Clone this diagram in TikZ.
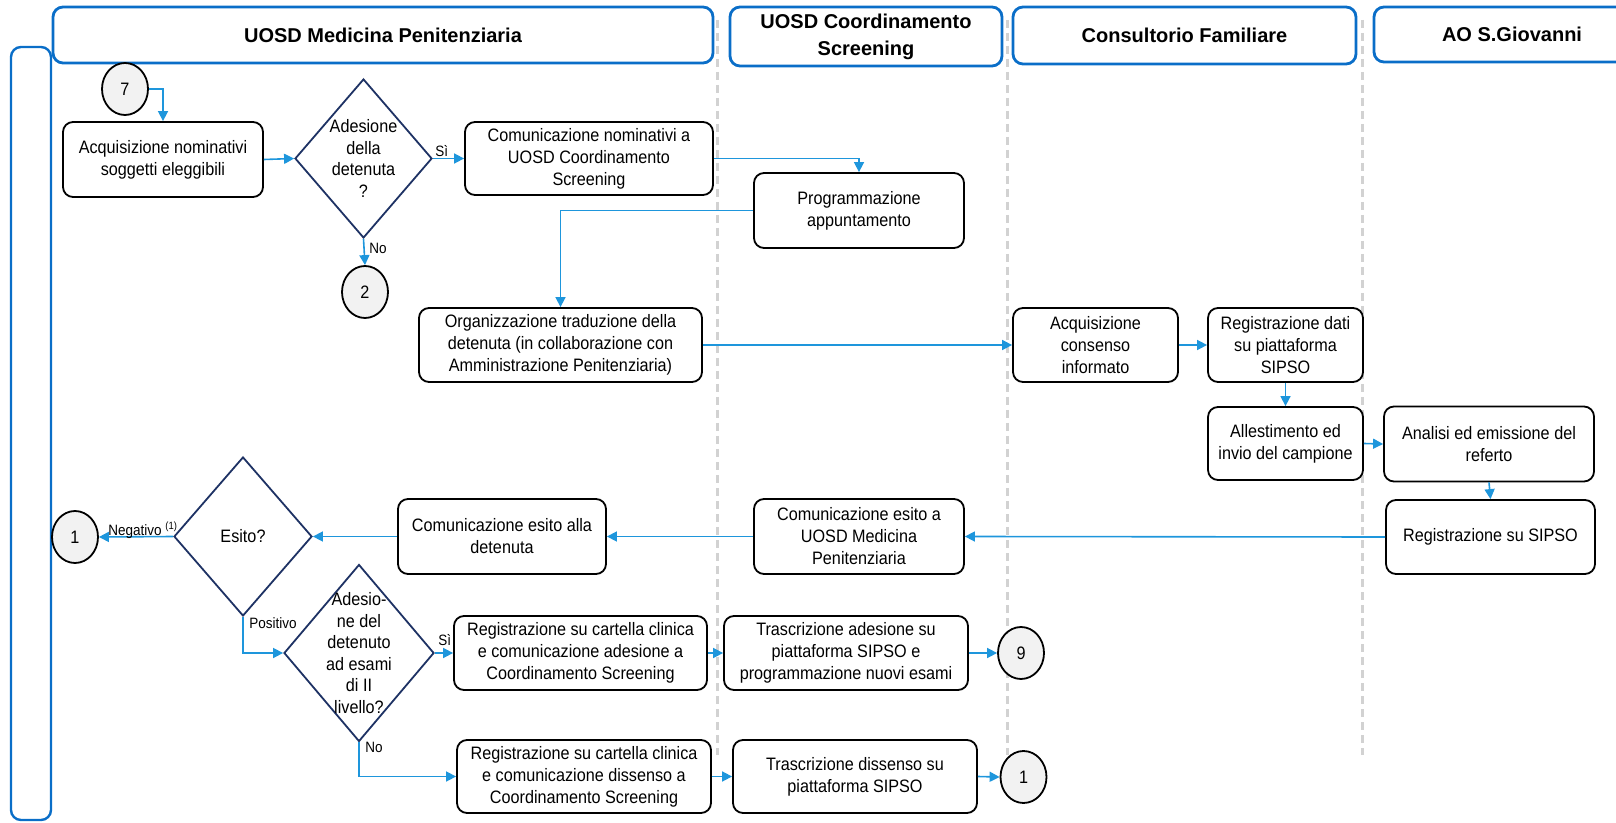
\documentclass[tikz,border=0pt]{standalone}
\usepackage{fontspec}
\setmainfont{Liberation Sans}
\newfontfamily\bodyfont{Liberation Sans}[FakeStretch=0.9]
\usetikzlibrary{shapes.geometric,arrows.meta}

\definecolor{laneblue}{RGB}{10,110,200}
\definecolor{flowblue}{RGB}{30,150,220}
\definecolor{decnavy}{RGB}{30,50,100}
\definecolor{sepgray}{RGB}{210,210,210}
\definecolor{connfill}{RGB}{242,242,242}

\tikzset{
  lanehead/.style={draw=laneblue, line width=1.4pt, rounded corners=5pt, fill=white,
    align=center, inner sep=0pt, font=\bfseries\fontsize{10}{13.5}\selectfont},
  proc/.style={draw=black, line width=0.9pt, rounded corners=5pt, fill=white,
    align=center, inner sep=1pt, font=\bodyfont\fontsize{9}{11}\selectfont},
  decision/.style={diamond, draw=decnavy, line width=0.9pt, inner sep=0pt, aspect=1},
  dectext/.style={align=center, inner sep=0pt, font=\bodyfont\fontsize{9}{10.8}\selectfont},
  conn/.style={ellipse, draw=black, line width=0.9pt, fill=connfill, inner sep=0pt,
    minimum width=23pt, minimum height=26pt, font=\bodyfont\fontsize{9}{11}\selectfont},
  flow/.style={draw=flowblue, line width=0.8pt, -{Triangle[length=5pt,width=5pt]}},
  lbl/.style={inner sep=0pt, font=\bodyfont\fontsize{7.5}{9}\selectfont},
  sep/.style={draw=sepgray, line width=1.5pt, dash pattern=on 4pt off 2.5pt},
}

\begin{document}
\begin{tikzpicture}[x=0.5pt, y=-0.5pt]
\useasboundingbox (0,0) rectangle (1616,823);
\clip (0,0) rectangle (1616,823);

% lane separators
\draw[sep] (717,20) -- (717,755);
\draw[sep] (1007,20) -- (1007,755);
\draw[sep] (1362,20) -- (1362,755);

% left rail
\draw[laneblue, line width=1.2pt, rounded corners=5pt] (11,47) rectangle (51,820);

% lane headers
\node[lanehead, minimum width=330pt, minimum height=28pt] (h1) at (383,35) {UOSD Medicina Penitenziaria};
\node[lanehead, minimum width=136pt, minimum height=29.5pt] (h2) at (866,36.5) {UOSD Coordinamento\\Screening};
\node[lanehead, minimum width=171.5pt, minimum height=28.5pt] (h3) at (1184.5,35.5) {Consultorio Familiare};
\node[lanehead, minimum width=138pt, minimum height=27.5pt] (h4) at (1512,34.5) {AO S.Giovanni};

% process boxes
\node[proc, minimum width=100pt, minimum height=37.5pt] (acq) at (163,159.5) {Acquisizione nominativi\\soggetti eleggibili};
\node[proc, minimum width=124pt, minimum height=36.5pt] (comA) at (589,158.5) {Comunicazione nominativi a\\UOSD Coordinamento\\Screening};
\node[proc, minimum width=105pt, minimum height=37.5pt] (prog) at (859,210.5) {Programmazione\\appuntamento};
\node[proc, minimum width=141.5pt, minimum height=37pt] (org) at (560.5,345) {Organizzazione traduzione della\\detenuta (in collaborazione con\\Amministrazione Penitenziaria)};
\node[proc, minimum width=82.5pt, minimum height=37pt] (cons) at (1095.5,345) {Acquisizione\\consenso\\informato};
\node[proc, minimum width=77.5pt, minimum height=37pt] (regd) at (1285.5,345) {Registrazione dati\\su piattaforma\\SIPSO};
\node[proc, minimum width=77.5pt, minimum height=36.5pt] (alle) at (1285.5,443.5) {Allestimento ed\\invio del campione};
\node[proc, minimum width=105pt, minimum height=37.5pt] (anal) at (1489,444) {Analisi ed emissione del\\referto};
\node[proc, minimum width=104.5pt, minimum height=37pt] (regs) at (1490.5,537) {Registrazione su SIPSO};
\node[proc, minimum width=105pt, minimum height=37.5pt] (ceU) at (859,536.5) {Comunicazione esito a\\UOSD Medicina\\Penitenziaria};
\node[proc, minimum width=104pt, minimum height=37.5pt] (ceD) at (502,536.5) {Comunicazione esito alla\\detenuta};
\node[proc, minimum width=126.5pt, minimum height=37pt] (regA) at (580.5,653) {Registrazione su cartella clinica\\e comunicazione adesione a\\Coordinamento Screening};
\node[proc, minimum width=122pt, minimum height=37pt] (trA) at (846,653) {Trascrizione adesione su\\piattaforma SIPSO e\\programmazione nuovi esami};
\node[proc, minimum width=127pt, minimum height=36.5pt] (regD) at (584,776.5) {Registrazione su cartella clinica\\e comunicazione dissenso a\\Coordinamento Screening};
\node[proc, minimum width=122pt, minimum height=36.5pt] (trD) at (855,776.5) {Trascrizione dissenso su\\piattaforma SIPSO};

% decisions
\node[decision, minimum width=68.5pt, minimum height=79.5pt] (d1) at (363.5,158.5) {};
\node[dectext] at (d1.center) {Adesione\\della\\detenuta\\?};
\node[decision, minimum width=69pt, minimum height=79.5pt] (esito) at (243,536.5) {};
\node[dectext] at (esito.center) {Esito?};
\node[decision, minimum width=75pt, minimum height=88.5pt] (d3) at (359,653) {};
\node[dectext] at (d3.center) {Adesio-\\ne del\\detenuto\\ad esami\\di II\\livello?};

% off-page connectors
\node[conn] (c7) at (125,89) {7};
\node[conn] (c2) at (365,292) {2};
\node[conn] (c1) at (75,537) {1};
\node[conn] (c9) at (1021,653) {9};
\node[conn] (c1b) at (1023.5,777) {1};

% flow
\draw[flow] (c7.east) -| (acq.north);
\draw[flow] (acq.east) -- (d1.west);
\draw[flow] (d1.east) -- (comA.west);
\draw[flow] (d1.south) -- (c2.north);
\draw[flow] (comA.east) -| (prog.north);
\draw[flow] (prog.west) -| (org.north);
\draw[flow] (org.east) -- (cons.west);
\draw[flow] (cons.east) -- (regd.west);
\draw[flow] (regd.south) -- (alle.north);
\draw[flow] (alle.east) -- (anal.west);
\draw[flow] (anal.south) -- (regs.north);
\draw[flow] (regs.west) -- (ceU.east);
\draw[flow] (ceU.west) -- (ceD.east);
\draw[flow] (ceD.west) -- (esito.east);
\draw[flow] (esito.west) -- (c1.east);
\draw[flow] (esito.south) |- (d3.west);
\draw[flow] (d3.east) -- (regA.west);
\draw[flow] (regA.east) -- (trA.west);
\draw[flow] (trA.east) -- (c9.west);
\draw[flow] (d3.south) |- (regD.west);
\draw[flow] (regD.east) -- (trD.west);
\draw[flow] (trD.east) -- (c1b.west);

% branch labels
\node[lbl, anchor=west] at (435,151) {Sì};
\node[lbl, anchor=west] at (369,248) {No};
\node[lbl, anchor=west] at (108,530) {Negativo \textsuperscript{(1)}};
\node[lbl, anchor=west] at (249,623) {Positivo};
\node[lbl, anchor=west] at (438,640) {Sì};
\node[lbl, anchor=west] at (365,747) {No};
\end{tikzpicture}
\end{document}
